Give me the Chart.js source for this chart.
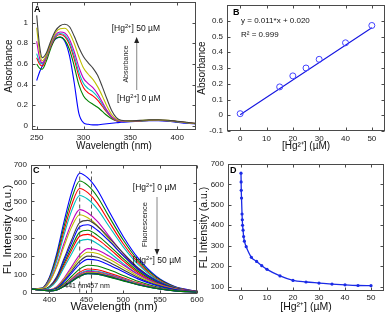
<!DOCTYPE html>
<html><head><meta charset="utf-8">
<script src="https://cdn.jsdelivr.net/npm/chart.js@4.4.1/dist/chart.umd.min.js"></script>
<style>
html,body{margin:0;padding:0;background:#fff;}
#wrap{position:relative;width:390px;height:318px;overflow:hidden;background:#fff;}
canvas{position:absolute;}
</style></head><body>
<div id="wrap">
<canvas id="cA" width="210" height="155" style="left:0;top:0"></canvas>
<canvas id="cC" width="212" height="163" style="left:0;top:155px"></canvas>
<canvas id="cB" width="195" height="155" style="left:195px;top:0"></canvas>
<canvas id="cD" width="195" height="163" style="left:195px;top:155px"></canvas>
</div>
<script>
// ---------- Panel A: absorbance spectra ----------
const absWl = [250,253,256,260,265,270,275,280,285,290,295,300,305,310,315,320,325,330,335,340,350,360,370,380,390,400,410,420];
const abs0 = [0.44,0.52,0.58,0.67,0.77,0.84,0.86,0.82,0.68,0.42,0.12,0.03,0.015,0.01,0.01,0.015,0.02,0.025,0.03,0.035,0.04,0.045,0.05,0.05,0.045,0.035,0.025,0.02];
const abs1 = [0.60,0.56,0.55,0.62,0.75,0.845,0.86,0.83,0.74,0.58,0.40,0.29,0.24,0.21,0.18,0.14,0.10,0.07,0.05,0.042,0.042,0.048,0.052,0.055,0.05,0.04,0.03,0.02];
const abs2 = [0.66,0.60,0.58,0.65,0.77,0.86,0.885,0.865,0.79,0.65,0.48,0.37,0.32,0.29,0.25,0.19,0.13,0.08,0.05,0.043,0.043,0.048,0.053,0.055,0.05,0.04,0.03,0.02];
const abs3 = [0.70,0.62,0.60,0.66,0.78,0.87,0.895,0.88,0.81,0.68,0.52,0.41,0.36,0.33,0.28,0.21,0.14,0.085,0.055,0.045,0.044,0.049,0.054,0.056,0.05,0.04,0.03,0.02];
const abs4 = [0.82,0.66,0.61,0.67,0.79,0.88,0.91,0.90,0.84,0.72,0.57,0.46,0.41,0.37,0.31,0.23,0.15,0.09,0.06,0.046,0.045,0.05,0.055,0.057,0.052,0.042,0.032,0.022];
const abs5 = [0.95,0.72,0.63,0.68,0.80,0.90,0.94,0.945,0.90,0.80,0.67,0.56,0.50,0.45,0.38,0.29,0.19,0.11,0.065,0.05,0.046,0.051,0.056,0.058,0.053,0.043,0.033,0.022];
const abs6 = [1.07,0.78,0.66,0.70,0.82,0.92,0.97,0.985,0.96,0.87,0.76,0.67,0.61,0.56,0.49,0.38,0.26,0.15,0.08,0.055,0.048,0.053,0.058,0.06,0.055,0.045,0.035,0.024];
const absSeries = [abs0,abs1,abs2,abs3,abs4,abs5,abs6];
const aXTicks = [250,300,350,400];
const aXLabels = ['250','300','350','400'];
const aYTicks = [0,0.2,0.4,0.6,0.8,1];
const aYLabels = ['0','0.2','0.4','0.6','0.8','1'];

// ---------- Panel B: calibration ----------
const bConc = [0,15,20,25,30,40,50];
const bAbs = [0.01,0.18,0.25,0.30,0.355,0.46,0.57];
const bFitX = [0,50];
const bFitY = [0.003,0.556];
const bXTicks = [0,10,20,30,40,50];
const bXLabels = ['0','10','20','30','40','50'];
const bYTicks = [-0.1,0,0.1,0.2,0.3,0.4,0.5,0.6];
const bYLabels = ['-0.1','0','0.1','0.2','0.3','0.4','0.5','0.6'];

// ---------- Panel C: fluorescence spectra ----------
const flWl = [375,390,400,410,420,430,441,452,465,480,500,520,545,570,600];
const fl01 = [20,25,84,216,393,550,655,629,563,452,308,190,88,33,7];
const fl02 = [20,24,78,202,367,514,612,588,526,422,288,177,83,31,6];
const fl03 = [20,23,74,188,343,480,571,548,491,394,268,166,77,29,6];
const fl04 = [20,23,69,176,320,448,533,512,458,368,251,155,72,27,5];
const fl05 = [20,21,60,150,273,382,455,437,391,314,214,132,61,23,5];
const fl06 = [20,21,56,141,256,359,427,410,367,295,201,124,58,21,4];
const fl07 = [20,16,33,88,188,288,384,396,364,304,216,136,66,26,6];
const fl08 = [20,16,31,83,177,271,361,372,342,286,203,128,62,24,6];
const fl09 = [20,15,29,76,162,248,331,342,314,262,186,117,57,22,5];
const fl10 = [20,15,28,71,151,232,309,319,293,245,174,109,53,21,5];
const fl11 = [20,15,26,65,139,212,283,292,268,224,159,100,49,19,4];
const fl12 = [20,13,15,32,80,141,207,241,233,202,151,100,51,21,5];
const fl13 = [20,13,14,29,74,129,190,221,214,185,138,91,47,19,4];
const fl14 = [20,13,13,26,67,117,172,200,194,168,125,83,42,17,4];
const fl15 = [20,13,12,24,61,107,156,182,177,153,114,75,39,16,4];
const fl16 = [20,13,11,20,50,88,129,150,146,126,94,62,32,13,3];
const fl17 = [20,13,10,17,43,75,111,129,125,108,81,53,27,11,3];
const fl18 = [20,13,10,16,40,71,104,121,117,101,76,50,26,10,2];
const fl19 = [20,13,10,15,39,68,99,116,112,97,73,48,25,10,2];
const fl20 = [20,13,9,15,37,65,95,111,108,93,69,46,24,10,2];
const fl21 = [20,13,9,14,36,63,92,107,104,90,67,44,23,9,2];
const fl22 = [20,13,9,14,35,61,89,104,101,87,65,43,22,9,2];
const fl23 = [20,13,9,14,34,60,88,103,100,86,64,43,22,9,2];
const flSeries = [fl01,fl02,fl03,fl04,fl05,fl06,fl07,fl08,fl09,fl10,fl11,fl12,fl13,fl14,fl15,fl16,fl17,fl18,fl19,fl20,fl21,fl22,fl23];
const peakLinesWl = [441,457];
const peakLineTop = [0,665];
const cXTicks = [400,450,500,550,600];
const cXLabels = ['400','450','500','550','600'];
const cYTicks = [0,100,200,300,400,500,600,700];
const cYLabels = ['0','100','200','300','400','500','600','700'];

// ---------- Panel D: quenching curve ----------
const dConc = [0,0.05,0.1,0.2,0.4,0.5,0.6,0.8,1,1.3,2,4,6,8,10,15,20,25,30,35,40,45,50];
const dFl = [655,612,571,533,455,427,400,376,345,322,295,243,223,202,184,152,130,122,117,112,108,105,104];
const dXTicks = [0,10,20,30,40,50];
const dXLabels = ['0','10','20','30','40','50'];
const dYTicks = [100,200,300,400,500,600,700];
const dYLabels = ['100','200','300','400','500','600','700'];

// ---------- styles ----------
const FF = '"Liberation Sans", Arial, Helvetica, sans-serif';
const COLORS = ['#0000ff','#008000','#ff0000','#00bfbf','#bf00bf','#bfbf00','#404040'];
const pts = (xs, ys) => xs.map((v,i)=>({x:v, y:ys[i]}));

const boxPlugin = {
  id:'box',
  afterDatasetsDraw(chart){
    const {ctx, chartArea:a, scales:{x,y}} = chart;
    const L=Math.round(a.left)+0.5, R=Math.round(a.right)-0.5, T=Math.round(a.top)+0.5, B=Math.round(a.bottom)-0.5;
    ctx.save();
    ctx.strokeStyle='#4a4a4a'; ctx.lineWidth=1;
    ctx.strokeRect(L,T,R-L,B-T);
    ctx.beginPath();
    x.ticks.forEach(t=>{const p=Math.round(x.getPixelForValue(t.value))+0.5; ctx.moveTo(p,B); ctx.lineTo(p,B-3); ctx.moveTo(p,T); ctx.lineTo(p,T+3);});
    y.ticks.forEach(t=>{const p=Math.round(y.getPixelForValue(t.value))+0.5; ctx.moveTo(L,p); ctx.lineTo(L+3,p); ctx.moveTo(R,p); ctx.lineTo(R-3,p);});
    ctx.stroke();
    ctx.restore();
  }
};

function hg(ctx, x, y, size, post){
  ctx.textBaseline='middle'; ctx.textAlign='left'; ctx.fillStyle='#111';
  ctx.font = size+'px '+FF;
  ctx.fillText('[Hg', x, y);
  let w = ctx.measureText('[Hg').width;
  ctx.font = (size*0.68)+'px '+FF;
  ctx.fillText('2+', x+w, y-size*0.33);
  w += ctx.measureText('2+').width;
  ctx.font = size+'px '+FF;
  ctx.fillText('] '+post, x+w, y);
}
function rot(ctx, text, x, y, size){
  ctx.save(); ctx.translate(x,y); ctx.rotate(-Math.PI/2);
  ctx.font = size+'px '+FF; ctx.fillStyle='#222'; ctx.textAlign='center'; ctx.textBaseline='middle';
  ctx.fillText(text,0,0); ctx.restore();
}
function arrow(ctx, x, yFrom, yTip){
  const dir = yTip < yFrom ? -1 : 1;
  ctx.save();
  ctx.strokeStyle='#9a9a9a'; ctx.lineWidth=1.2;
  ctx.beginPath(); ctx.moveTo(x, yFrom); ctx.lineTo(x, yTip - dir*5); ctx.stroke();
  ctx.fillStyle='#222';
  ctx.beginPath(); ctx.moveTo(x, yTip); ctx.lineTo(x-2.5, yTip-dir*6); ctx.lineTo(x+2.5, yTip-dir*6); ctx.closePath(); ctx.fill();
  ctx.restore();
}
function letter(ctx, t, x, y){
  ctx.font='bold 9px '+FF; ctx.fillStyle='#000'; ctx.textAlign='left'; ctx.textBaseline='middle';
  ctx.fillText(t,x,y);
}

function makeChart(id, o, datasets, notes){
  return new Chart(document.getElementById(id), {
    type:'line',
    data:{datasets},
    options:{
      responsive:false, animation:false, events:[],
      layout:{padding:o.pad},
      plugins:{legend:{display:false}, tooltip:{enabled:false}},
      elements:{line:{cubicInterpolationMode:'monotone'}},
      scales:{
        x:{type:'linear', min:o.x[0], max:o.x[1],
          afterBuildTicks:s=>{s.ticks=o.xt.map(v=>({value:v}));},
          afterFit:s=>{s.height=o.xh; s.paddingLeft=0; s.paddingRight=0;},
          grid:{display:false, drawTicks:false}, border:{display:false},
          ticks:{autoSkip:false, maxRotation:0, padding:o.xtp, color:'#1a1a1a', font:{family:FF,size:8}, callback:(v,i)=>o.xl[i]},
          title:{display:true, text:o.xtitle, color:'#111', font:{family:FF,size:o.xtf}, padding:{top:0,bottom:o.xpb}}
        },
        y:{type:'linear', min:o.y[0], max:o.y[1],
          afterBuildTicks:s=>{s.ticks=o.yt.map(v=>({value:v}));},
          afterFit:s=>{s.width=o.yw; s.paddingTop=0; s.paddingBottom=0;},
          grid:{display:false, drawTicks:false}, border:{display:false},
          ticks:{autoSkip:false, padding:4, color:'#1a1a1a', font:{family:FF,size:8}, callback:(v,i)=>o.yl[i]},
          title:{display:true, text:o.ytitle, color:'#111', font:{family:FF,size:o.ytf}, padding:{top:o.ypt,bottom:0}}
        }
      }
    },
    plugins:[boxPlugin, {id:'notes', afterDraw:c=>{c.ctx.save(); notes(c); c.ctx.restore();}}]
  });
}

// Panel A
makeChart('cA', {pad:{left:0,top:2,right:14,bottom:0}, x:[245,420], y:[-0.04,1.2],
  xt:aXTicks, xl:aXLabels, yt:aYTicks, yl:aYLabels, xh:25, yw:32, xtp:3,
  xtitle:'Wavelength (nm)', xtf:10, xpb:3, ytitle:'Absorbance', ytf:10, ypt:3},
  absSeries.map((s,i)=>({data:pts(absWl,s), borderColor:COLORS[i%7], borderWidth:1.1, pointRadius:0, order:10-i})),
  c=>{
    const {ctx, scales:{x,y}, chartArea:a} = c;
    letter(ctx,'A',a.left+2,a.top+8);
    hg(ctx, x.getPixelForValue(330), y.getPixelForValue(0.94), 8.5, '50 µM');
    hg(ctx, x.getPixelForValue(335.7), y.getPixelForValue(0.26), 8.5, '0 µM');
    rot(ctx, 'Absorbance', x.getPixelForValue(345.5), y.getPixelForValue(0.60), 7);
    arrow(ctx, x.getPixelForValue(356.7), y.getPixelForValue(0.347), y.getPixelForValue(0.861));
  });

// Panel B
makeChart('cB', {pad:{left:0,top:2,right:5,bottom:0}, x:[-5,55], y:[-0.1,0.7],
  xt:bXTicks, xl:bXLabels, yt:bYTicks, yl:bYLabels, xh:24, yw:32, xtp:3,
  xtitle:'[Hg²⁺] (µM)', xtf:10, xpb:3, ytitle:'Absorbance', ytf:10, ypt:1},
  [
    {data:pts(bConc,bAbs), showLine:false, borderColor:'#3a3aff', pointBorderColor:'#4444ff', pointBackgroundColor:'rgba(0,0,0,0)', pointRadius:3, pointBorderWidth:1},
    {data:pts(bFitX,bFitY), borderColor:'#1515e0', borderWidth:1.1, pointRadius:0}
  ],
  c=>{
    const {ctx, scales:{x,y}, chartArea:a} = c;
    letter(ctx,'B',a.left+6,a.top+8);
    ctx.font='8px '+FF; ctx.fillStyle='#111'; ctx.textAlign='left'; ctx.textBaseline='middle';
    ctx.fillText('y = 0.011*x + 0.020', x.getPixelForValue(0.32), y.getPixelForValue(0.60));
    ctx.fillText('R² = 0.999', x.getPixelForValue(0.32), y.getPixelForValue(0.508));
  });

// Panel C
const cSets = flSeries.map((s,i)=>({data:pts(flWl,s), borderColor:COLORS[i%7], borderWidth:1.1, pointRadius:0, order:50-i}));
peakLinesWl.forEach(w=>cSets.push({data:pts([w,w],peakLineTop), borderColor:'#555', borderWidth:1, borderDash:[4,3], pointRadius:0, order:-10, cubicInterpolationMode:'default', tension:0}));
makeChart('cC', {pad:{left:0,top:10,right:15,bottom:0}, x:[375,600], y:[-8,700],
  xt:cXTicks, xl:cXLabels, yt:cYTicks, yl:cYLabels, xh:24, yw:31, xtp:0.5,
  xtitle:'Wavelength (nm)', xtf:11.5, xpb:4.4, ytitle:'FL Intensity (a.u.)', ytf:11.5, ypt:1.1},
  cSets,
  c=>{
    const {ctx, scales:{x,y}, chartArea:a} = c;
    letter(ctx,'C',a.left+2,a.top+6);
    hg(ctx, x.getPixelForValue(513), y.getPixelForValue(574), 8.5, '0 µM');
    hg(ctx, x.getPixelForValue(513), y.getPixelForValue(173), 8.5, '50 µM');
    rot(ctx, 'Fluorescence', x.getPixelForValue(529.5), y.getPixelForValue(373), 7.5);
    arrow(ctx, x.getPixelForValue(545.8), y.getPixelForValue(524), y.getPixelForValue(206));
    ctx.font='7px '+FF; ctx.fillStyle='#111'; ctx.textAlign='center'; ctx.textBaseline='middle';
    ctx.fillText('441 nm', x.getPixelForValue(436), y.getPixelForValue(36));
    ctx.fillText('457 nm', x.getPixelForValue(466), y.getPixelForValue(36));
  });

// Panel D
makeChart('cD', {pad:{left:0,top:9,right:6,bottom:0}, x:[-5,55], y:[78,700],
  xt:dXTicks, xl:dXLabels, yt:dYTicks, yl:dYLabels, xh:27, yw:33, xtp:1.5,
  xtitle:'[Hg²⁺] (µM)', xtf:10.5, xpb:5, ytitle:'FL Intensity (a.u.)', ytf:10.5, ypt:2.7},
  [{data:pts(dConc,dFl), borderColor:'#1a2ae6', borderWidth:1.3, pointRadius:1.6, pointBackgroundColor:'#1a2ae6', pointBorderColor:'#1a2ae6', pointBorderWidth:0}],
  c=>{
    const {ctx, chartArea:a} = c;
    letter(ctx,'D',a.left+2,a.top+7);
  });
</script>
</body></html>
